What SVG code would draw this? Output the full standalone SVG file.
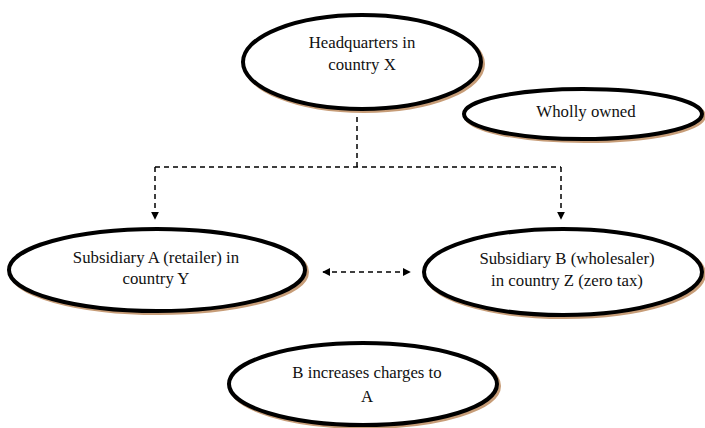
<svg xmlns="http://www.w3.org/2000/svg" width="705" height="428" viewBox="0 0 705 428">
<defs>
<marker id="ah" viewBox="0 0 10 10" refX="9" refY="5" markerWidth="8" markerHeight="8" markerUnits="userSpaceOnUse" orient="auto-start-reverse">
<path d="M0,0 L10,5 L0,10 z" fill="#000"/>
</marker>
<style>
.sh{fill:none;stroke:#c79d78;stroke-width:4}
.el{fill:#fff;stroke:#000;stroke-width:4}
.t{font-family:"Liberation Serif","Times New Roman",serif;font-size:16.8px;fill:#111;text-anchor:middle}
.c{fill:none;stroke:#000;stroke-width:1.5;stroke-dasharray:5,4}
</style>
</defs>
<rect width="705" height="428" fill="#fff"/>
<g id="hq">
<ellipse class="sh" cx="364" cy="64" rx="119" ry="47"/>
<ellipse class="el" cx="362" cy="62" rx="119" ry="47"/>
<text class="t" x="362" y="48">Headquarters in</text>
<text class="t" x="362" y="70">country X</text>
</g>
<g id="owned">
<ellipse class="sh" cx="585" cy="116" rx="119" ry="25"/>
<ellipse class="el" cx="583" cy="114" rx="119" ry="25"/>
<text class="t" x="586" y="117">Wholly owned</text>
</g>
<g id="subA">
<ellipse class="sh" cx="159" cy="272" rx="148" ry="41"/>
<ellipse class="el" cx="157" cy="270" rx="148" ry="41"/>
<text class="t" x="156" y="263">Subsidiary A (retailer) in</text>
<text class="t" x="156" y="284">country Y</text>
</g>
<g id="subB">
<ellipse class="sh" cx="565" cy="274" rx="139" ry="43"/>
<ellipse class="el" cx="563" cy="272" rx="139" ry="43"/>
<text class="t" x="567" y="264">Subsidiary B (wholesaler)</text>
<text class="t" x="567" y="286">in country Z (zero tax)</text>
</g>
<g id="charges">
<ellipse class="sh" cx="365" cy="386" rx="134" ry="41"/>
<ellipse class="el" cx="363" cy="384" rx="134" ry="41"/>
<text class="t" x="367" y="378">B increases charges to</text>
<text class="t" x="367" y="402">A</text>
</g>
<g id="connectors">
<path class="c" d="M357,117 V167"/>
<path class="c" d="M155,167 H561"/>
<path class="c" d="M155,167 V219" marker-end="url(#ah)"/>
<path class="c" d="M561,167 V219" marker-end="url(#ah)"/>
<path class="c" d="M323,272 H410" marker-start="url(#ah)" marker-end="url(#ah)"/>
</g>
</svg>
